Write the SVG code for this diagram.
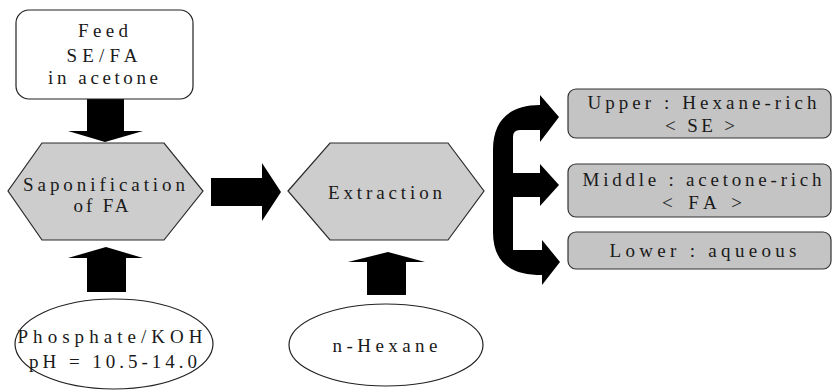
<svg xmlns="http://www.w3.org/2000/svg" width="833" height="391" viewBox="0 0 833 391">
<style>
.t text{font-size:19px;fill:#1a1a1a;text-anchor:middle}
.hex{fill:#cdcdcd;stroke:#2a2a2a;stroke-width:1.2}
.box{fill:#c4c4c4;stroke:#333;stroke-width:1.2}
.plain{fill:#fff;stroke:#222;stroke-width:1.2}
.arr{fill:#000;stroke:none}
</style>
<g id="connectors">
  <polygon class="arr" points="87,99 124,99 124,131 143,131 105,142 68,131 87,131"/>
  <polygon class="arr" points="87,292 126,292 126,258 143,258 106,247 68,258 87,258"/>
  <polygon class="arr" points="211,178 262,178 262,163 281,192 262,221 262,206 211,206"/>
  <polygon class="arr" points="367,295 406,295 406,262 425,262 388,252 348,262 367,262"/>
  <path class="arr" d="M559,117 L540,95 L540,105 C510,105 493,120 493,150 L493,232 C493,262 510,275 542,275 L542,285 L560,262 L542,240 L542,250 L513,250 L513,197 L540,197 L540,206 L559,185 L540,164 L540,173 L513,173 L513,137 Q513,130 520,130 L540,130 L540,142 Z"/>
</g>
<g class="t" font-family="Liberation Serif, DejaVu Serif, serif">
<g id="feed">
  <rect class="plain" x="16" y="10" width="177" height="89" rx="13"/>
  <text x="103" y="37" textLength="50" lengthAdjust="spacing">Feed</text>
  <text x="102" y="62" textLength="71" lengthAdjust="spacing">SE/FA</text>
  <text x="103" y="84" textLength="110" lengthAdjust="spacing">in acetone</text>
</g>
<g id="saponification">
  <polygon class="hex" points="42,143 164,143 203,191 164,240 42,240 8,191"/>
  <text x="104" y="191" textLength="162" lengthAdjust="spacing">Saponification</text>
  <text x="101" y="212" textLength="55" lengthAdjust="spacing">of FA</text>
</g>
<g id="phosphate">
  <ellipse class="plain" cx="114" cy="344" rx="99" ry="45"/>
  <text x="110" y="343" textLength="185" lengthAdjust="spacing">Phosphate/KOH</text>
  <text x="113" y="368" textLength="168" lengthAdjust="spacing">pH = 10.5-14.0</text>
</g>
<g id="extraction">
  <polygon class="hex" points="288,191 330,143 448,143 484,191 448,240 330,240"/>
  <text x="385" y="199" textLength="114" lengthAdjust="spacing">Extraction</text>
</g>
<g id="hexane">
  <ellipse class="plain" cx="386" cy="345" rx="97" ry="41"/>
  <text x="385" y="352" textLength="105" lengthAdjust="spacing">n-Hexane</text>
</g>
<g id="upper">
  <rect class="box" x="568" y="89" width="263" height="49" rx="8"/>
  <text x="702" y="109" textLength="229" lengthAdjust="spacing">Upper : Hexane-rich</text>
  <text x="700" y="132" textLength="70" lengthAdjust="spacing">&lt; SE &gt;</text>
</g>
<g id="middle">
  <rect class="box" x="568" y="164" width="263" height="53" rx="8"/>
  <text x="702" y="186" textLength="239" lengthAdjust="spacing">Middle : acetone-rich</text>
  <text x="702" y="209" textLength="80" lengthAdjust="spacing">&lt; FA &gt;</text>
</g>
<g id="lower">
  <rect class="box" x="568" y="232" width="263" height="37" rx="8"/>
  <text x="703" y="257" textLength="187" lengthAdjust="spacing">Lower : aqueous</text>
</g>
</g>
</svg>
